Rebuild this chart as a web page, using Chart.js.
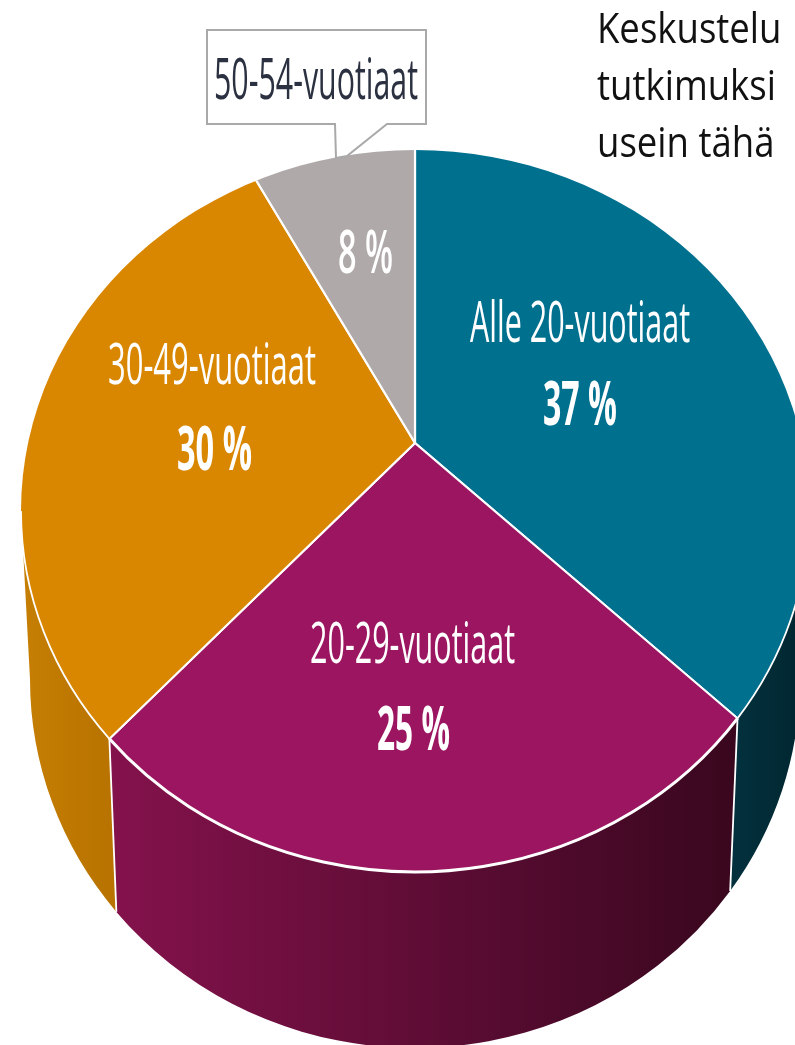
<!DOCTYPE html>
<html lang="fi">
<head>
<meta charset="utf-8">
<title>Ikäryhmät</title>
<script src="https://cdn.jsdelivr.net/npm/chart.js@4"></script>
<style>
    html, body { margin: 0; padding: 0; background: #fff; overflow: hidden; }
    #wrap { position: relative; width: 795px; height: 1045px; overflow: hidden; }
    canvas { position: absolute; left: 0; top: 0; filter: blur(0.6px); }
    .para {
        position: absolute; left: 597px; color: #111; white-space: nowrap;
        font: 42px/50px "Open Sans", sans-serif; transform-origin: 0 0; transform: scaleX(0.87);
    }
</style>
</head>
<body>
<div id="wrap">
    <canvas id="pie" width="795" height="1045"></canvas>
    <div class="para" style="top:2px">Keskustelu</div>
    <div class="para" style="top:59px">tutkimuksi</div>
    <div class="para" style="top:116px">usein tähä</div>
</div>
<script>
// chart data
const ageGroups = ['Alle 20-vuotiaat', '20-29-vuotiaat', '30-49-vuotiaat', '50-54-vuotiaat'];
const shares = [37, 25, 30, 8];
const topColors = ['#00708f', '#9b1560', '#d98600', '#b0a9a9'];
const sideColors = [
    ['#02303c', '#01262f'],
    ['#84124c', '#39071e'],
    ['#c67f03', '#b87300'],
    ['#8f8989', '#8f8989']
];

// the pie top is an ellipse, the apex sits above its middle
const topFace = { x: 415, y: 511, rx: 394, ry: 361 };
const bottomFace = { x: 415, y: 679, rx: 385, ry: 369 };
const stretchX = 1.1;

// text boxes: left, right, baseline
const nameBoxes = [[470, 690, 342], [310, 515, 663], [108, 316, 384], [214, 418, 99]];
const shareBoxes = [[543, 617, 425], [377, 450, 750], [177, 252, 470], [338, 393, 273]];

function fitText(ctx, text, box, font, color) {
    ctx.save();
    ctx.font = font;
    ctx.fillStyle = color;
    ctx.textAlign = 'left';
    ctx.textBaseline = 'alphabetic';
    const k = (box[1] - box[0]) / ctx.measureText(text).width;
    ctx.translate(box[0], box[2]);
    ctx.scale(k, 1);
    ctx.fillText(text, 0, 0);
    ctx.restore();
}

// where a slice edge meets the top ellipse, as ellipse parameter
function edgeParam(arc, angle) {
    const dx = stretchX * Math.cos(angle) / topFace.rx;
    const dy = Math.sin(angle) / topFace.ry;
    const ox = (arc.x - topFace.x) / topFace.rx;
    const oy = (arc.y - topFace.y) / topFace.ry;
    const a = dx * dx + dy * dy;
    const b = 2 * (ox * dx + oy * dy);
    const c = ox * ox + oy * oy - 1;
    const t = (-b + Math.sqrt(b * b - 4 * a * c)) / (2 * a);
    return Math.atan2(oy + t * dy, ox + t * dx);
}

function visibleRange(arc) {
    let p0 = edgeParam(arc, arc.startAngle);
    let p1 = edgeParam(arc, arc.endAngle);
    if (p1 < p0) p1 += Math.PI * 2;
    const lo = Math.min(Math.max(p0, 0), Math.PI);
    const hi = Math.min(Math.max(p1, 0), Math.PI);
    return [lo, hi];
}

const pie3d = {
    id: 'pie3d',
    beforeDatasetsDraw(chart) {
        const ctx = chart.ctx;
        const arcs = chart.getDatasetMeta(0).data;
        // side wall
        arcs.forEach((arc, i) => {
            const [lo, hi] = visibleRange(arc);
            if (hi <= lo) return;
            const xa = topFace.x + topFace.rx * Math.cos(hi);
            const xb = topFace.x + topFace.rx * Math.cos(lo);
            const grad = ctx.createLinearGradient(xa, 0, xb, 0);
            grad.addColorStop(0, sideColors[i][0]);
            grad.addColorStop(1, sideColors[i][1]);
            ctx.beginPath();
            ctx.ellipse(topFace.x, topFace.y, topFace.rx, topFace.ry, 0, lo, hi);
            ctx.ellipse(bottomFace.x, bottomFace.y, bottomFace.rx, bottomFace.ry, 0, hi, lo, true);
            ctx.closePath();
            ctx.fillStyle = grad;
            ctx.fill();
        });
    },
    beforeDatasetDraw(chart) {
        const ctx = chart.ctx;
        const arc = chart.getDatasetMeta(0).data[0];
        ctx.save();
        ctx.beginPath();
        ctx.ellipse(topFace.x, topFace.y, topFace.rx, topFace.ry, 0, 0, Math.PI * 2);
        ctx.clip();
        ctx.translate(arc.x, arc.y);
        ctx.scale(stretchX, 1);
        ctx.translate(-arc.x, -arc.y);
    },
    afterDatasetDraw(chart) {
        chart.ctx.restore();
    },
    afterDatasetsDraw(chart) {
        const ctx = chart.ctx;
        const arcs = chart.getDatasetMeta(0).data;
        // white edges on the wall
        ctx.strokeStyle = '#fff';
        arcs.forEach((arc, i) => {
            const [lo, hi] = visibleRange(arc);
            if (hi <= lo) return;
            ctx.lineWidth = i === 1 ? 3 : 1.8;
            ctx.beginPath();
            ctx.ellipse(topFace.x, topFace.y, topFace.rx, topFace.ry, 0, lo, hi);
            ctx.stroke();
            if (i < 2) {
                ctx.lineWidth = 1.8;
                ctx.beginPath();
                ctx.moveTo(topFace.x + topFace.rx * Math.cos(hi), topFace.y + topFace.ry * Math.sin(hi));
                ctx.lineTo(bottomFace.x + bottomFace.rx * Math.cos(hi), bottomFace.y + bottomFace.ry * Math.sin(hi));
                ctx.stroke();
            }
        });

        // callout of the smallest group
        ctx.beginPath();
        ctx.moveTo(207, 30);
        ctx.lineTo(426, 30);
        ctx.lineTo(426, 124);
        ctx.lineTo(387, 124);
        ctx.lineTo(347, 156);
        ctx.lineTo(336, 158);
        ctx.lineTo(335, 124);
        ctx.lineTo(207, 124);
        ctx.closePath();
        ctx.fillStyle = '#fff';
        ctx.fill();
        ctx.strokeStyle = '#a9a9a9';
        ctx.lineWidth = 2;
        ctx.stroke();

        ageGroups.forEach((name, i) => {
            const color = i === 3 ? '#2b3140' : '#fff';
            fitText(ctx, name, nameBoxes[i], '56px "Open Sans"', color);
            const weight = i === 3 ? '600' : 'bold';
            fitText(ctx, shares[i] + ' %', shareBoxes[i], weight + ' 60px "Open Sans"', '#fff');
        });
    }
};

new Chart(document.getElementById('pie'), {
    type: 'pie',
    data: {
        labels: ageGroups,
        datasets: [{
            data: shares,
            backgroundColor: topColors,
            borderColor: '#fff',
            borderWidth: 2,
            clip: false
        }]
    },
    options: {
        responsive: false,
        animation: false,
        radius: 445,
        layout: { padding: { left: 35, right: 0, top: 0, bottom: 159 } },
        plugins: {
            legend: { display: false },
            tooltip: { enabled: false }
        }
    },
    plugins: [pie3d]
});
</script>
</body>
</html>
